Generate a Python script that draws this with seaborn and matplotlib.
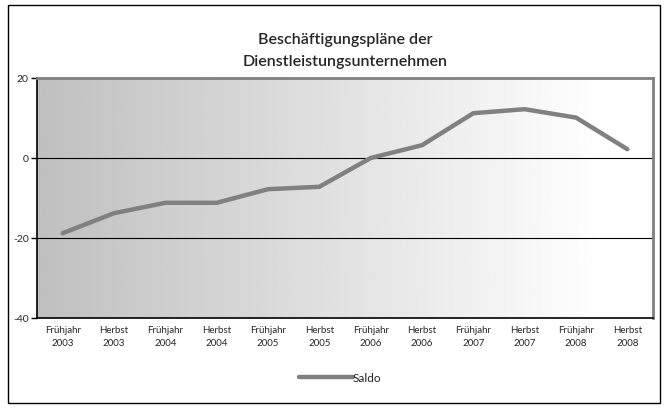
import numpy as np
import pandas as pd
import matplotlib
matplotlib.use("Agg")
import matplotlib.pyplot as plt
import seaborn as sns
from matplotlib.patches import Rectangle

categories = ["Frühjahr\n2003", "Herbst\n2003", "Frühjahr\n2004", "Herbst\n2004",
              "Frühjahr\n2005", "Herbst\n2005", "Frühjahr\n2006", "Herbst\n2006",
              "Frühjahr\n2007", "Herbst\n2007", "Frühjahr\n2008", "Herbst\n2008"]
saldo = [-18.8, -13.8, -11.2, -11.2, -7.8, -7.2, 0.0, 3.2, 11.2, 12.2, 10.1, 2.2]
y_ticks = [-40, -20, 0, 20]
title = "Beschäftigungspläne der\nDienstleistungsunternehmen"

sns.set_theme(style="white")
plt.rcParams['font.family'] = ['Lato', 'DejaVu Sans']

W, H = 666, 408
fig = plt.figure(figsize=(W / 100, H / 100), dpi=100)
ax = fig.add_axes([37 / W, 1 - 318 / H, (653 - 37) / W, (318 - 78) / H])

# outer frame
fig.patches.append(Rectangle((8 / W, 1 - 403 / H), (660 - 8) / W, (403 - 5) / H,
                             transform=fig.transFigure, fill=False,
                             edgecolor="black", linewidth=1.0, zorder=0))

# gradient background
grad = np.linspace(0, 1, 512)
vals = 0.75 + 0.25 * np.clip(grad / 0.92, 0, 1)
img = np.tile(vals, (2, 1))
ax.imshow(img, cmap="gray", vmin=0, vmax=1, aspect="auto",
          extent=[0, 1, 0, 1], transform=ax.transAxes, zorder=0)

df = pd.DataFrame({"Zeit": categories, "Saldo": saldo})
sns.lineplot(data=df, x="Zeit", y="Saldo", color="#808080", linewidth=3.2,
             ax=ax, label="Saldo", zorder=3, sort=False)

ax.set_xlim(-0.5, len(categories) - 0.5)
ax.set_ylim(-40, 20)
ax.set_yticks(y_ticks)
ax.set_yticklabels([str(v) for v in y_ticks], fontsize=7.5)
ax.set_xticks(range(len(categories)))
ax.set_xticklabels(categories, fontsize=7, linespacing=1.55)
ax.set_xticks(np.arange(-0.5, len(categories), 1), minor=True)
ax.tick_params(axis="x", which="major", length=0, pad=6)
ax.tick_params(axis="x", which="minor", length=4, width=1, direction="out", color="black")
ax.tick_params(axis="y", which="major", length=4, width=1, direction="out", color="black", pad=2, left=True)
ax.set_xlabel("")
ax.set_ylabel("")

for y in [0, -20]:
    ax.axhline(y, color="black", linewidth=0.8, zorder=2)

for s in ["left", "bottom"]:
    ax.spines[s].set_color("black")
    ax.spines[s].set_linewidth(1.2)
for s in ["top", "right"]:
    ax.spines[s].set_visible(True)
    ax.spines[s].set_color("#808080")
    ax.spines[s].set_linewidth(2)

fig.text(345 / W, 1 - 51 / H, title, ha="center", va="center",
         fontsize=11.5, fontweight="semibold", linespacing=1.75)

ax.get_legend().remove()
handles, labels = ax.get_legend_handles_labels()
fig.legend(handles, labels, loc="center", bbox_to_anchor=(340 / W, 1 - 378 / H),
           frameon=False, fontsize=8.5, handlelength=4.6, handletextpad=0.0)

fig.savefig("out.png", dpi=100)
